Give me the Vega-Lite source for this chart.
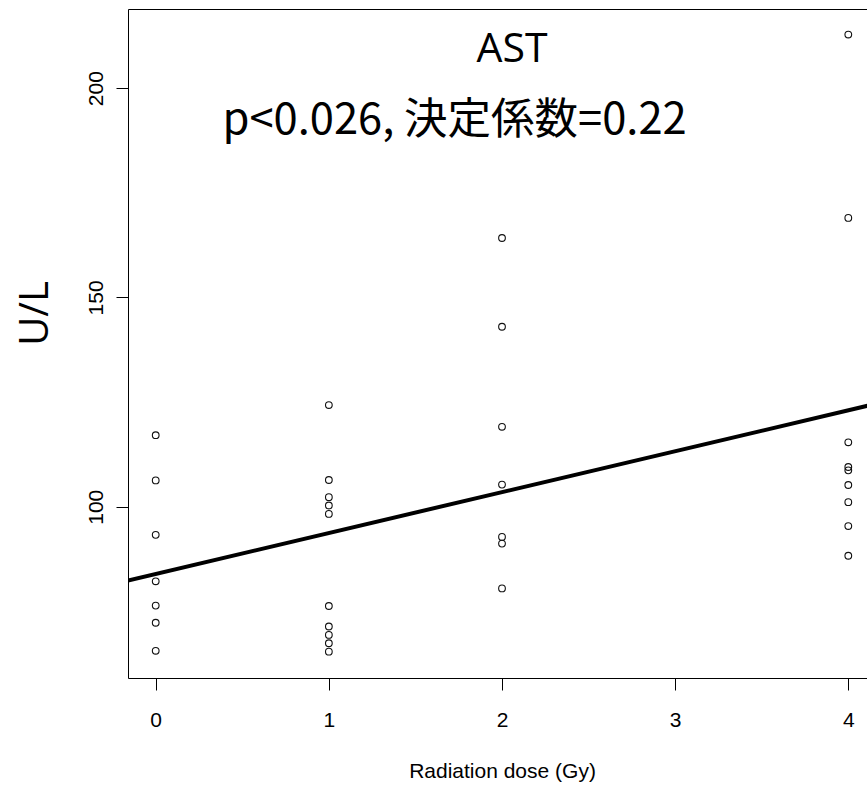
{
  "$schema": "https://vega.github.io/schema/vega-lite/v6.json",
  "width": 748,
  "height": 669,
  "autosize": {"type": "none"},
  "padding": {"left": 128, "top": 9, "right": 0, "bottom": 110},
  "background": "white",
  "config": {
    "view": {"stroke": "black", "strokeWidth": 1},
    "axis": {
      "domain": false,
      "grid": false,
      "ticks": true,
      "tickColor": "black",
      "tickWidth": 1,
      "tickSize": 12,
      "labelColor": "black",
      "labelFont": "Liberation Sans",
      "labelFontSize": 21,
      "titleColor": "black",
      "titleFontWeight": "normal"
    }
  },
  "datasets": {
    "ast": [
      {"dose": 0, "ast": 117.1}, {"dose": 0, "ast": 106.3}, {"dose": 0, "ast": 93.3}, {"dose": 0, "ast": 82.2},
      {"dose": 0, "ast": 76.4}, {"dose": 0, "ast": 72.3}, {"dose": 0, "ast": 65.6},
      {"dose": 1, "ast": 124.3}, {"dose": 1, "ast": 106.4}, {"dose": 1, "ast": 102.3}, {"dose": 1, "ast": 100.3},
      {"dose": 1, "ast": 98.3}, {"dose": 1, "ast": 76.3}, {"dose": 1, "ast": 71.4}, {"dose": 1, "ast": 69.4},
      {"dose": 1, "ast": 67.4}, {"dose": 1, "ast": 65.4},
      {"dose": 2, "ast": 164.2}, {"dose": 2, "ast": 143.0}, {"dose": 2, "ast": 119.1}, {"dose": 2, "ast": 105.3},
      {"dose": 2, "ast": 92.8}, {"dose": 2, "ast": 91.2}, {"dose": 2, "ast": 80.5},
      {"dose": 4, "ast": 212.8}, {"dose": 4, "ast": 169.0}, {"dose": 4, "ast": 115.4}, {"dose": 4, "ast": 109.5},
      {"dose": 4, "ast": 108.7}, {"dose": 4, "ast": 105.2}, {"dose": 4, "ast": 101.1}, {"dose": 4, "ast": 95.4},
      {"dose": 4, "ast": 88.3}
    ],
    "fit": [
      {"dose": -0.16, "ast": 82.4},
      {"dose": 4.16, "ast": 124.6}
    ],
    "labels": [
      {"label": "AST"},
      {"label": "p<0.026, 決定係数=0.22"}
    ]
  },
  "layer": [
    {
      "data": {"name": "ast"},
      "mark": {"type": "point", "shape": "circle", "filled": false, "size": 45, "stroke": "#111111", "strokeWidth": 1.1, "opacity": 1},
      "encoding": {
        "x": {
          "field": "dose",
          "type": "quantitative",
          "scale": {"domain": [-0.16, 4.16], "nice": false, "zero": false},
          "axis": {
            "values": [0, 1, 2, 3, 4],
            "format": "d",
            "labelPadding": 19,
            "labelBaseline": "top",
            "title": "Radiation dose (Gy)",
            "titleFont": "Liberation Sans",
            "titleFontSize": 21,
            "titleBaseline": "alphabetic",
            "titleY": 99
          }
        },
        "y": {
          "field": "ast",
          "type": "quantitative",
          "scale": {"domain": [59.1, 218.9], "nice": false, "zero": false},
          "axis": {
            "values": [100, 150, 200],
            "format": "d",
            "labelAngle": -90,
            "labelAlign": "center",
            "labelBaseline": "alphabetic",
            "labelPadding": 14,
            "title": "U/L",
            "titleFont": "Open Sans",
            "titleFontSize": 40,
            "titleAngle": -90,
            "titleAlign": "center",
            "titleBaseline": "alphabetic",
            "titleX": -81,
            "titleY": 304
          }
        }
      }
    },
    {
      "data": {"name": "fit"},
      "mark": {"type": "line", "color": "black", "strokeWidth": 4, "clip": true},
      "encoding": {
        "x": {"field": "dose", "type": "quantitative", "title": "Radiation dose (Gy)"},
        "y": {"field": "ast", "type": "quantitative", "title": "U/L"}
      }
    },
    {
      "data": {"name": "labels"},
      "transform": [{"filter": "datum.label === 'AST'"}],
      "mark": {"type": "text", "font": "Open Sans", "fontSize": 41, "align": "center", "baseline": "alphabetic", "color": "black"},
      "encoding": {
        "text": {"field": "label"},
        "x": {"datum": 2.058, "type": "quantitative", "title": "Radiation dose (Gy)"},
        "y": {"datum": 206.3, "type": "quantitative", "title": "U/L"}
      }
    },
    {
      "data": {"name": "labels"},
      "transform": [{"filter": "datum.label !== 'AST'"}],
      "mark": {"type": "text", "font": "Noto Sans CJK JP", "fontSize": 43.5, "align": "center", "baseline": "alphabetic", "color": "black"},
      "encoding": {
        "text": {"field": "label"},
        "x": {"datum": 1.726, "type": "quantitative", "title": "Radiation dose (Gy)"},
        "y": {"datum": 189.05, "type": "quantitative", "title": "U/L"}
      }
    }
  ]
}
